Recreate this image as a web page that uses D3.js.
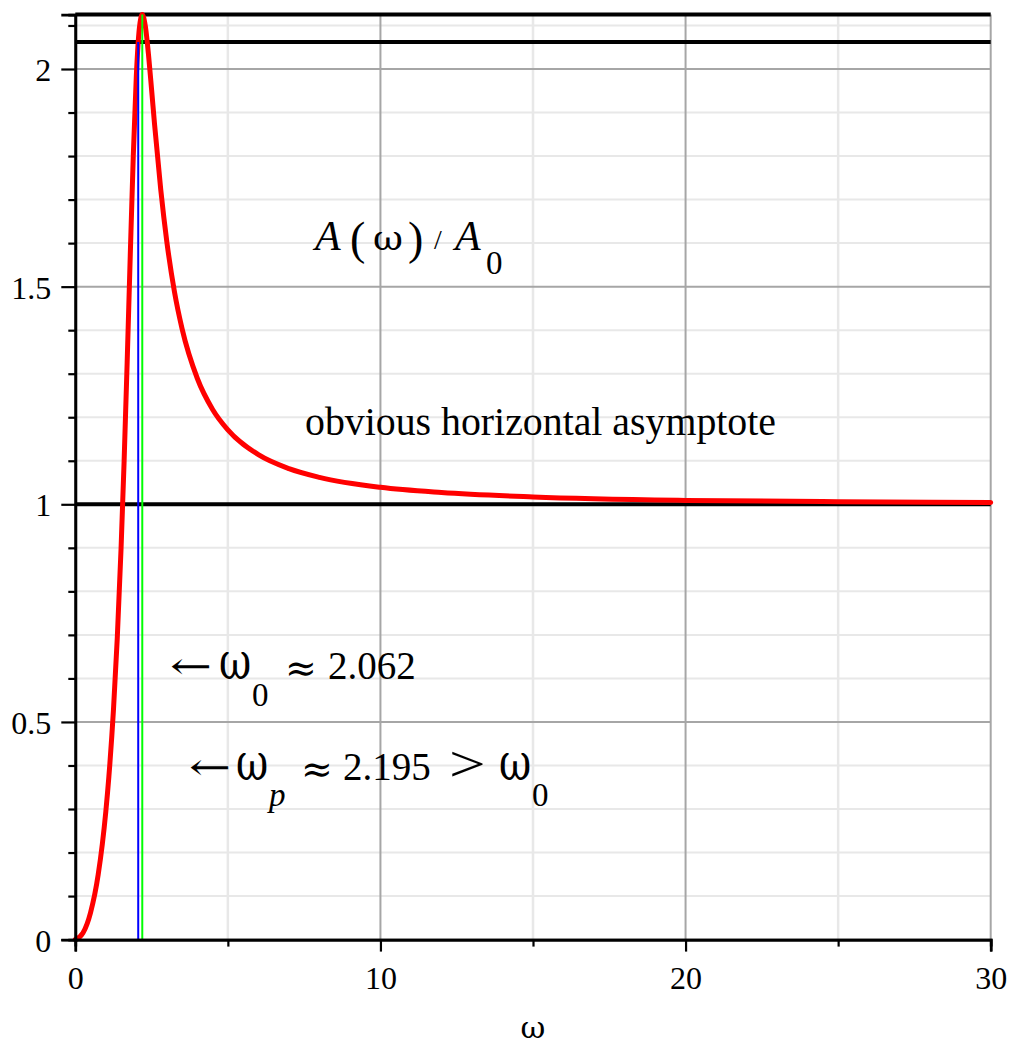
<!DOCTYPE html>
<html>
<head>
<meta charset="utf-8">
<script src="https://cdn.jsdelivr.net/npm/d3@7"></script>
<style>
  html, body { margin: 0; padding: 0; background: #fff; }
  svg { display: block; }
  svg text { fill: #000; }
</style>
</head>
<body>
<svg id="chart" width="1013" height="1049" font-family="Liberation Serif, Times New Roman, serif"></svg>
<script>
// ---- data ----
const omega = [0, 0.25, 0.5, 0.75, 1, 1.1, 1.25, 1.375, 1.5, 1.6, 1.7, 1.8, 1.9, 2.0, 2.1, 2.195, 2.3, 2.4, 2.5, 2.6, 2.8, 3, 3.25, 3.5, 4, 4.5, 5, 6, 7, 8, 10, 12, 15, 20, 25, 30];
const amplitude = [0, 0.015, 0.062, 0.149, 0.294, 0.374, 0.527, 0.692, 0.899, 1.099, 1.327, 1.569, 1.800, 1.984, 2.094, 2.125, 2.096, 2.032, 1.953, 1.871, 1.723, 1.603, 1.488, 1.403, 1.289, 1.218, 1.171, 1.114, 1.082, 1.062, 1.039, 1.027, 1.017, 1.009, 1.006, 1.004];
const hLines = [1, 2.062, 2.125];            // black horizontal lines
const omega0 = 2.062, omega0Height = 2.062;  // blue marker
const omegaP = 2.195, omegaPHeight = 2.125;  // green marker
const xMajorTicks = [0, 10, 20, 30];
const xMinorTicks = [5, 15, 25];
const yMajorTicks = [0, 0.5, 1, 1.5, 2];
const yMinorTicks = [0.1, 0.2, 0.3, 0.4, 0.6, 0.7, 0.8, 0.9, 1.1, 1.2, 1.3, 1.4, 1.6, 1.7, 1.8, 1.9, 2.1];
const xDomain = [0, 30];
const yDomain = [0, 2.125];

// ---- layout ----
const svg = d3.select("#chart");
const left = 75.3, right = 990.7, bottom = 939.6;
const x = d3.scaleLinear().domain(xDomain).range([left, right]);
const y = d3.scaleLinear().domain(yDomain).range([bottom, bottom - 435.3 * yDomain[1]]);
const serif = "Liberation Serif, Times New Roman, serif";
const symFont = "DejaVu Serif, serif";

svg.append("rect").attr("width", 1013).attr("height", 1049).attr("fill", "#fff");

// grid
const grid = svg.append("g");
grid.selectAll(".hminor").data(yMinorTicks).join("line")
  .attr("x1", x(0)).attr("x2", x(30)).attr("y1", d => y(d)).attr("y2", d => y(d))
  .attr("stroke", "#e8e8e8").attr("stroke-width", 2);
grid.selectAll(".vminor").data(xMinorTicks).join("line")
  .attr("y1", y(0)).attr("y2", y(yDomain[1])).attr("x1", d => x(d)).attr("x2", d => x(d))
  .attr("stroke", "#e8e8e8").attr("stroke-width", 2.5);
grid.selectAll(".hmajor").data(yMajorTicks.filter(d => d > 0)).join("line")
  .attr("x1", x(0)).attr("x2", x(30)).attr("y1", d => y(d)).attr("y2", d => y(d))
  .attr("stroke", "#a6a6a6").attr("stroke-width", 2);
grid.selectAll(".vmajor").data(xMajorTicks.filter(d => d > 0)).join("line")
  .attr("y1", y(0)).attr("y2", y(yDomain[1])).attr("x1", d => x(d)).attr("x2", d => x(d))
  .attr("stroke", "#a6a6a6").attr("stroke-width", 2);

// black horizontal lines
svg.append("g").selectAll("line").data(hLines).join("line")
  .attr("x1", x(0)).attr("x2", x(30)).attr("y1", d => y(d)).attr("y2", d => y(d))
  .attr("stroke", "#000").attr("stroke-width", 4);

// red curve
const pts = omega.map((w, i) => [w, amplitude[i]]);
svg.append("path").datum(pts)
  .attr("d", d3.line().x(d => x(d[0])).y(d => y(d[1])).curve(d3.curveMonotoneX))
  .attr("fill", "none").attr("stroke", "#ff0000").attr("stroke-width", 5)
  .attr("stroke-linejoin", "round").attr("stroke-linecap", "round");

// markers
svg.append("line").attr("x1", x(omega0)).attr("x2", x(omega0))
  .attr("y1", y(0)).attr("y2", y(omega0Height)).attr("stroke", "#0000ff").attr("stroke-width", 2);
svg.append("line").attr("x1", x(omegaP)).attr("x2", x(omegaP))
  .attr("y1", y(0)).attr("y2", y(omegaPHeight)).attr("stroke", "#00ff00").attr("stroke-width", 2);

// axes
const fmt = d => d3.format("")(d);
const yAxisMajor = svg.append("g").attr("transform", `translate(${left},0)`)
  .call(d3.axisLeft(y).tickValues(yMajorTicks).tickSize(14).tickPadding(10).tickFormat(fmt));
const yAxisMinor = svg.append("g").attr("transform", `translate(${left},0)`)
  .call(d3.axisLeft(y).tickValues(yMinorTicks).tickSize(7).tickFormat(""));
const xAxisMajor = svg.append("g").attr("transform", `translate(0,${bottom})`)
  .call(d3.axisBottom(x).tickValues(xMajorTicks).tickSize(12).tickPadding(15).tickFormat(fmt));
const xAxisMinor = svg.append("g").attr("transform", `translate(0,${bottom})`)
  .call(d3.axisBottom(x).tickValues(xMinorTicks).tickSize(7).tickFormat(""));
[yAxisMajor, yAxisMinor, xAxisMajor, xAxisMinor].forEach(g => {
  g.attr("font-family", serif);
  g.select(".domain").attr("stroke", "#000").attr("stroke-width", 2.7);
  g.selectAll(".tick line").attr("stroke", "#000").attr("stroke-width", 2.2);
  g.selectAll("text").style("font-family", serif).attr("font-size", 32).attr("fill", "#000");
});
yAxisMajor.selectAll("text").attr("dy", "0.36em");

// glyph helper: text placed at (gx, gy) baseline with size and optional stretch
function glyph(txt, gx, gy, size, opts = {}) {
  const sx = opts.sx || 1, sy = opts.sy || 1;
  const el = svg.append("text")
    .attr("transform", `translate(${gx},${gy}) scale(${sx},${sy})`)
    .attr("font-size", size)
    .style("font-family", opts.family || serif)
    .text(txt);
  if (opts.italic) el.style("font-style", "italic");
  if (opts.anchor) el.attr("text-anchor", opts.anchor);
  return el;
}

// axis label
glyph("ω", (left + right) / 2, 1038, 29, { anchor: "middle", family: symFont, sx: 1.05 });

// title A(ω) / A0
glyph("A", 315, 250, 42, { italic: true });
glyph("(", 350, 254, 46);
glyph("ω", 373, 250, 34, { family: symFont, sx: 1.08 });
glyph(")", 408, 254, 46);
glyph("/", 434, 249, 28);
glyph("A", 455, 250, 42, { italic: true });
glyph("0", 486, 274, 33);

// asymptote note
svg.append("text").attr("x", 305).attr("y", 435).attr("font-size", 39)
  .attr("textLength", 471).attr("lengthAdjust", "spacingAndGlyphs")
  .style("font-family", serif)
  .text("obvious horizontal asymptote");

// omega0 note
glyph("←", 170, 679, 50, { family: symFont, sy: 0.75 });
glyph("ω", 219, 679, 52, { family: symFont, sx: 0.76 });
glyph("0", 252, 706, 33);
glyph("≈", 285, 681, 38, { family: symFont });
glyph("2.062", 328, 679, 39);

// omegaP note
glyph("←", 189, 780, 50, { family: symFont, sy: 0.75 });
glyph("ω", 236, 780, 52, { family: symFont, sx: 0.76 });
glyph("p", 269, 806, 33, { italic: true });
glyph("≈", 301, 782, 38, { family: symFont });
glyph("2.195", 343, 780, 39);
glyph(">", 449, 781, 50, { sx: 1.3 });
glyph("ω", 499, 780, 52, { family: symFont, sx: 0.76 });
glyph("0", 532, 806, 33);
</script>
</body>
</html>
